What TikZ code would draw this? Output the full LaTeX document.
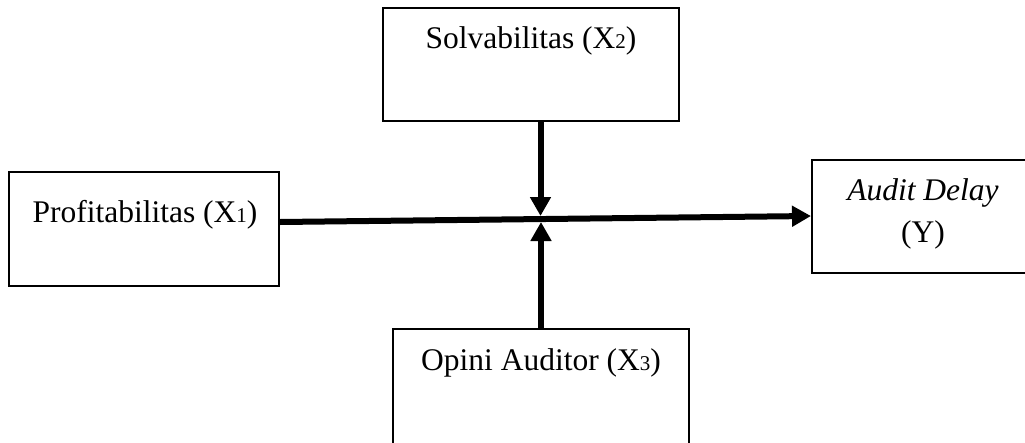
\documentclass[tikz,border=0pt]{standalone}
\usepackage{fontspec}
\setmainfont{Liberation Serif}
\usetikzlibrary{arrows.meta}

% small index digit set after X
\newcommand{\idx}[1]{{\fontsize{21}{21}\selectfont #1}}

\begin{document}
\begin{tikzpicture}[x=1pt,y=-1pt,
  varbox/.style={draw, line width=2pt, rectangle, inner sep=0pt},
  label/.style={inner sep=0pt, anchor=base, font=\fontsize{31.5}{40}\selectfont},
  flow/.style={line width=6pt, -{Triangle[length=19pt,width=20pt]}}]
  \useasboundingbox (0,0) rectangle (1025,442);
  \clip (0,0) rectangle (1025,442);

  % variable boxes
  \node[varbox, minimum width=296pt, minimum height=113pt] (s) at (531,64.5) {};
  \node[varbox, minimum width=270pt, minimum height=114pt] (p) at (144,229) {};
  \node[varbox, minimum width=222pt, minimum height=113pt] (y) at (923,216.5) {};
  \node[varbox, minimum width=296pt, minimum height=120pt] (o) at (541,389) {};

  % box texts
  \node[label] (st) at (531,48) {Solvabilitas (X\idx{2})};
  \node[label] (pt) at (145,222) {Profitabilitas (X\idx{1})};
  \node[label] (yt1) at (923,200) {\itshape Audit Delay};
  \node[label] (yt2) at (923,242) {(Y)};
  \node[label] (ot) at (541,370) {Opini Auditor (X\idx{3})};

  % influence arrows
  \draw[flow] ([yshift=7pt]p.east) -- ([yshift=0.5pt]y.west);
  \draw[flow] ([xshift=9.5pt]s.south) -- ++(0,94);
  \draw[flow] (o.north) -- ++(0,-106);
\end{tikzpicture}
\end{document}
